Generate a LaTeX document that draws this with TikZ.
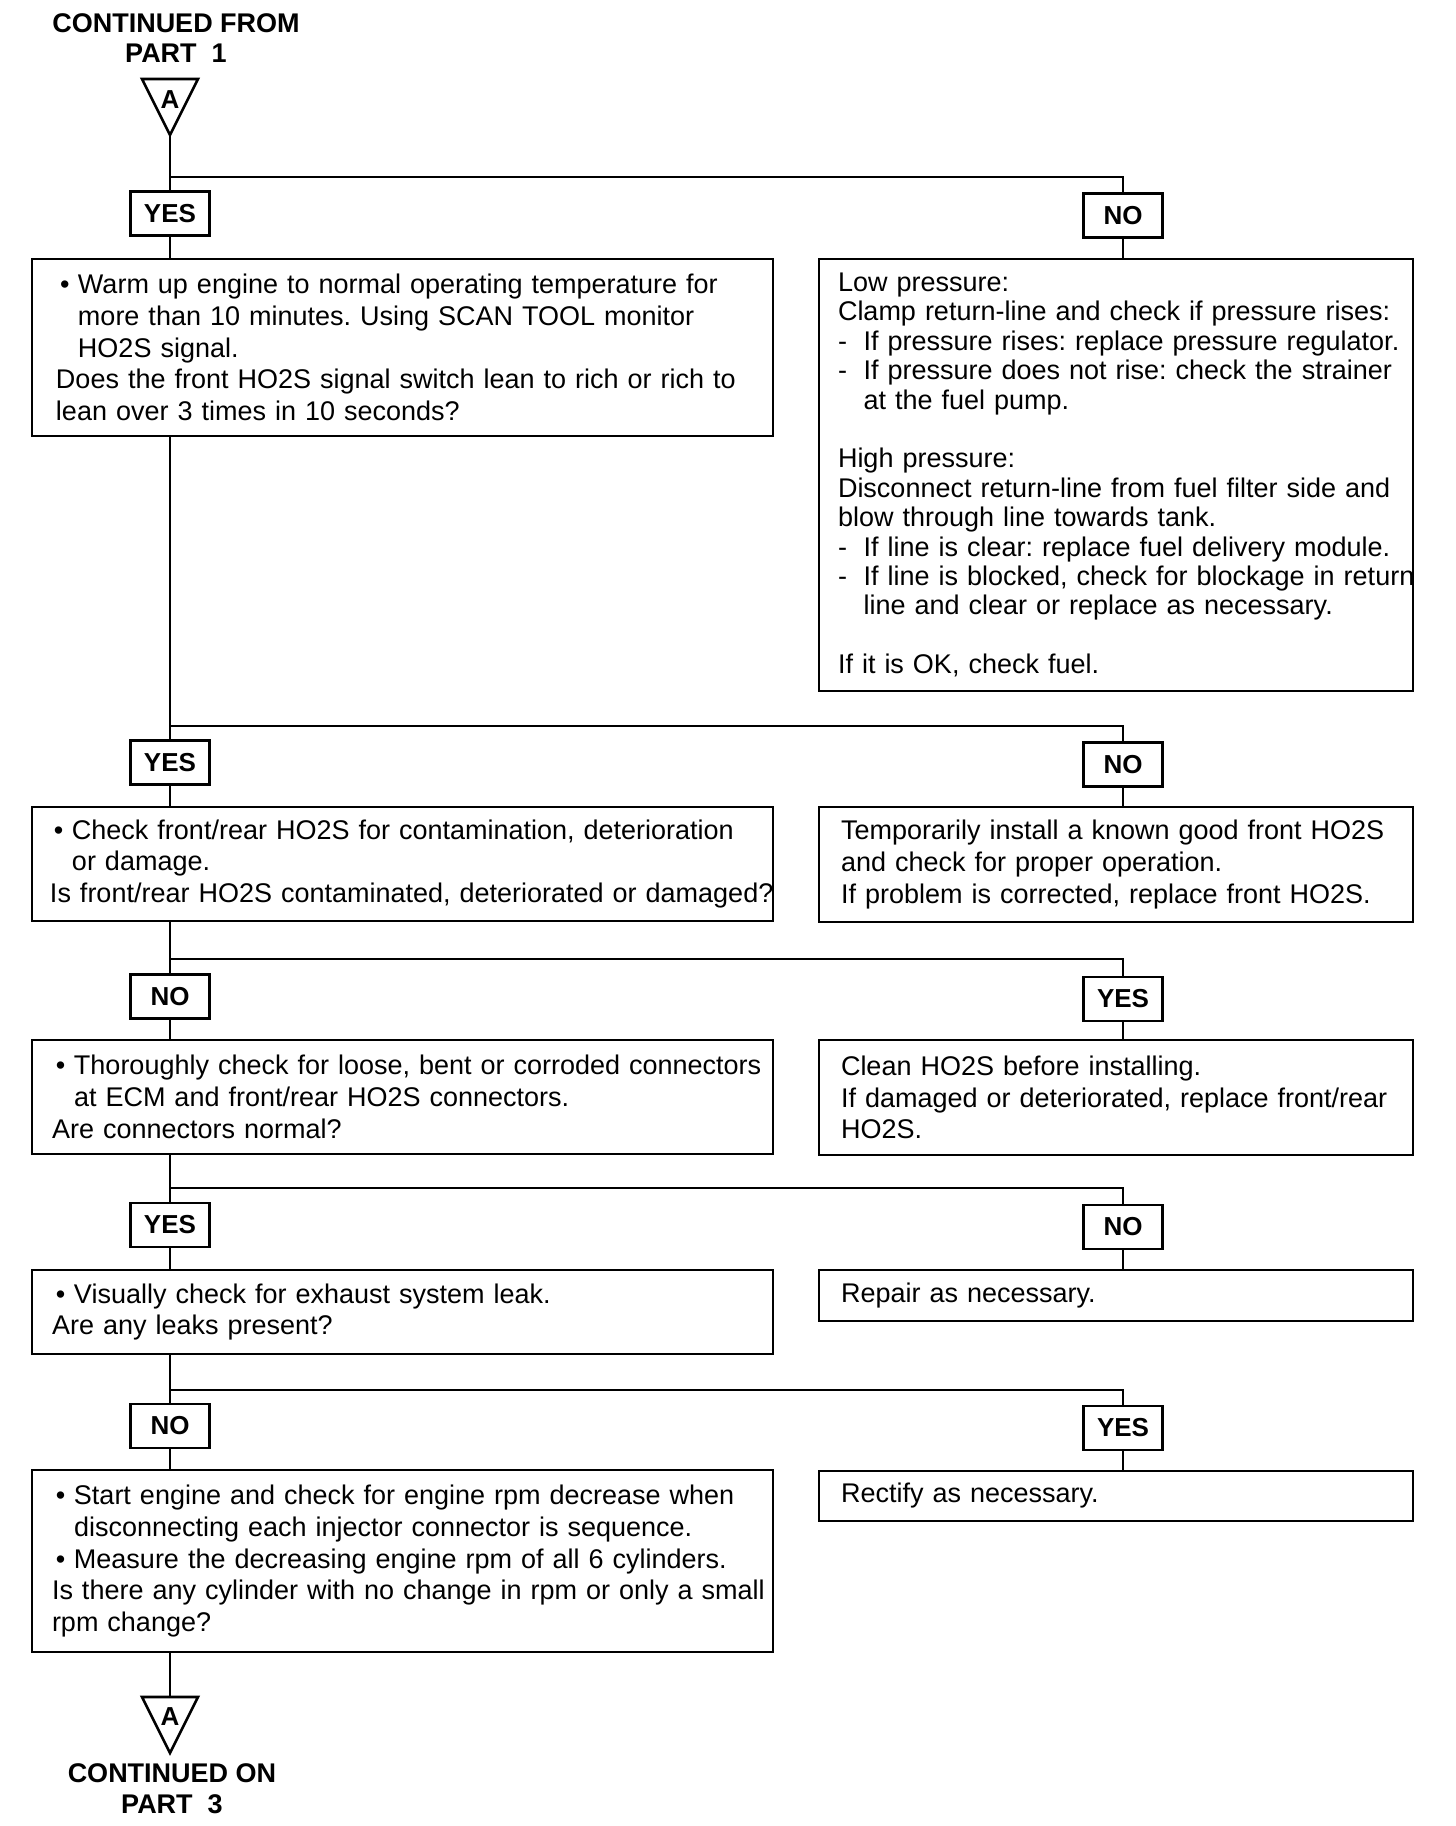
\documentclass[tikz,border=0pt]{standalone}
\usepackage{fontspec}
\setmainfont{Liberation Sans}
\newcommand\mybul{\hspace*{2pt}\makebox[9pt][l]{\textbullet}}
\newcommand\myind{\hspace*{11pt}}
\newcommand\mydash{\makebox[12.8pt][l]{-}}
\newcommand\mydind{\hspace*{12.8pt}}
\begin{document}
\begin{tikzpicture}[x=0.5pt,y=-0.5pt,
  box/.style={draw, line width=1.3pt, inner xsep=0pt, inner ysep=0pt, align=left,
    font=\fontsize{13.5}{15.9}\selectfont\frenchspacing, anchor=center},
  pad/.style={execute at begin node={\setlength{\leftskip}{#1}\hyphenpenalty=10000\hfuzz=30pt\relax}},
  lbox/.style={box, minimum width=370.5pt, text width=370.5pt, pad=10pt},
  rbox/.style={box, minimum width=297pt, text width=297pt, pad=11pt},
  lab/.style={draw, line width=1.3pt, minimum width=39.5pt, minimum height=22pt, inner sep=0pt,
    font=\fontsize{13}{15}\selectfont\bfseries},
  conn/.style={line width=1.2pt},
  tri/.style={line width=1.3pt, line join=miter},
  afont/.style={font=\fontsize{13}{15}\selectfont\bfseries, inner sep=0pt},
  ttl/.style={font=\fontsize{13.5}{15.3}\selectfont\bfseries, align=center, inner sep=0pt},
]
\useasboundingbox (0,0) rectangle (1456,1826);

% title
\node[ttl] (title1) at (176,38) {CONTINUED FROM\\PART\ \ 1};
\coordinate (t1l) at (142,79);
\coordinate (t1r) at (198,79);
\coordinate (t1a) at (170,135);
\draw[tri] (t1l) -- (t1r) -- (t1a) -- cycle;
\node[afont] (a1) at (170,100) {A};

% row 1
\node[lab] (yes1) at (170,213.5) {YES};
\node[lab] (no1) at (1123,215.5) {NO};
\node[lbox, minimum height=88.5pt, pad=12pt] (box1) at (402.5,347.5) {%
\mybul Warm up engine to normal operating temperature for\\
\myind more than 10 minutes. Using SCAN TOOL monitor\\
\myind HO2S signal.\\
Does the front HO2S signal switch lean to rich or rich to\\
lean over 3 times in 10 seconds?};
\node[rbox, minimum height=216pt, pad=9.5pt, font=\fontsize{13.5}{14.7}\selectfont\frenchspacing] (r1) at (1116,475) {%
Low pressure:\\
Clamp return-line and check if pressure rises:\\
\mydash If pressure rises: replace pressure regulator.\\
\mydash If pressure does not rise: check the strainer\\
\mydind at the fuel pump.\\[14.7pt]
High pressure:\\
Disconnect return-line from fuel filter side and\\
blow through line towards tank.\\
\mydash If line is clear: replace fuel delivery module.\\
\mbox{\mydash If line is blocked, check for blockage in return}\\
\mydind line and clear or replace as necessary.\\[14.7pt]
If it is OK, check fuel.};

% row 2
\node[lab] (yes2) at (170,762.5) {YES};
\node[lab] (no2) at (1123,764.5) {NO};
\node[lbox, minimum height=57pt, pad=9pt] (box2) at (402.5,864) {%
\mybul Check front/rear HO2S for contamination, deterioration\\
\myind or damage.\\
\mbox{Is front/rear HO2S contaminated, deteriorated or damaged?}};
\node[rbox, minimum height=57.5pt] (r2) at (1116,864.5) {%
Temporarily install a known good front HO2S\\
and check for proper operation.\\
If problem is corrected, replace front HO2S.};

% row 3
\node[lab] (no3) at (170,996.5) {NO};
\node[lab] (yes3) at (1123,999) {YES};
\node[lbox, minimum height=57pt] (box3) at (402.5,1097) {%
\mybul Thoroughly check for loose, bent or corroded connectors\\
\myind at ECM and front/rear HO2S connectors.\\
Are connectors normal?};
\node[rbox, minimum height=57.5pt] (r3) at (1116,1097.5) {%
Clean HO2S before installing.\\
If damaged or deteriorated, replace front/rear\\
HO2S.};

% row 4
\node[lab] (yes4) at (170,1225) {YES};
\node[lab] (no4) at (1123,1227) {NO};
\node[lbox, minimum height=42pt] (box4) at (402.5,1312) {%
\mybul Visually check for exhaust system leak.\\
Are any leaks present?};
\node[rbox, minimum height=25.5pt] (r4) at (1116,1295.5) {Repair as necessary.};

% row 5
\node[lab] (no5) at (170,1426) {NO};
\node[lab] (yes5) at (1123,1428) {YES};
\node[lbox, minimum height=91pt] (box5) at (402.5,1561) {%
\mybul Start engine and check for engine rpm decrease when\\
\myind disconnecting each injector connector is sequence.\\
\mybul Measure the decreasing engine rpm of all 6 cylinders.\\
Is there any cylinder with no change in rpm or only a small\\
rpm change?};
\node[rbox, minimum height=25pt] (r5) at (1116,1496) {Rectify as necessary.};

% bottom
\coordinate (t2l) at (142,1697);
\coordinate (t2r) at (198,1697);
\coordinate (t2a) at (170,1753);
\coordinate (t2t) at (170,1697);
\draw[tri] (t2l) -- (t2r) -- (t2a) -- cycle;
\node[afont] (a2) at (170,1717) {A};
\node[ttl] (title2) at (172,1788.5) {CONTINUED ON\\PART\ \ 3};

% branch points
\coordinate (b1) at (170,177);
\coordinate (b2) at (170,726);
\coordinate (b3) at (170,959);
\coordinate (b4) at (170,1188);
\coordinate (b5) at (170,1390);

% connectors
\draw[conn] (t1a) -- (yes1.north);
\draw[conn] (b1) -| (no1.north);
\draw[conn] (yes1.south) -- (yes1.south |- box1.north);
\draw[conn] (no1.south) -- (no1.south |- r1.north);

\draw[conn] (yes2.north |- box1.south) -- (yes2.north);
\draw[conn] (b2) -| (no2.north);
\draw[conn] (yes2.south) -- (yes2.south |- box2.north);
\draw[conn] (no2.south) -- (no2.south |- r2.north);

\draw[conn] (no3.north |- box2.south) -- (no3.north);
\draw[conn] (b3) -| (yes3.north);
\draw[conn] (no3.south) -- (no3.south |- box3.north);
\draw[conn] (yes3.south) -- (yes3.south |- r3.north);

\draw[conn] (yes4.north |- box3.south) -- (yes4.north);
\draw[conn] (b4) -| (no4.north);
\draw[conn] (yes4.south) -- (yes4.south |- box4.north);
\draw[conn] (no4.south) -- (no4.south |- r4.north);

\draw[conn] (no5.north |- box4.south) -- (no5.north);
\draw[conn] (b5) -| (yes5.north);
\draw[conn] (no5.south) -- (no5.south |- box5.north);
\draw[conn] (yes5.south) -- (yes5.south |- r5.north);

\draw[conn] (t2t |- box5.south) -- (t2t);
\end{tikzpicture}
\end{document}
